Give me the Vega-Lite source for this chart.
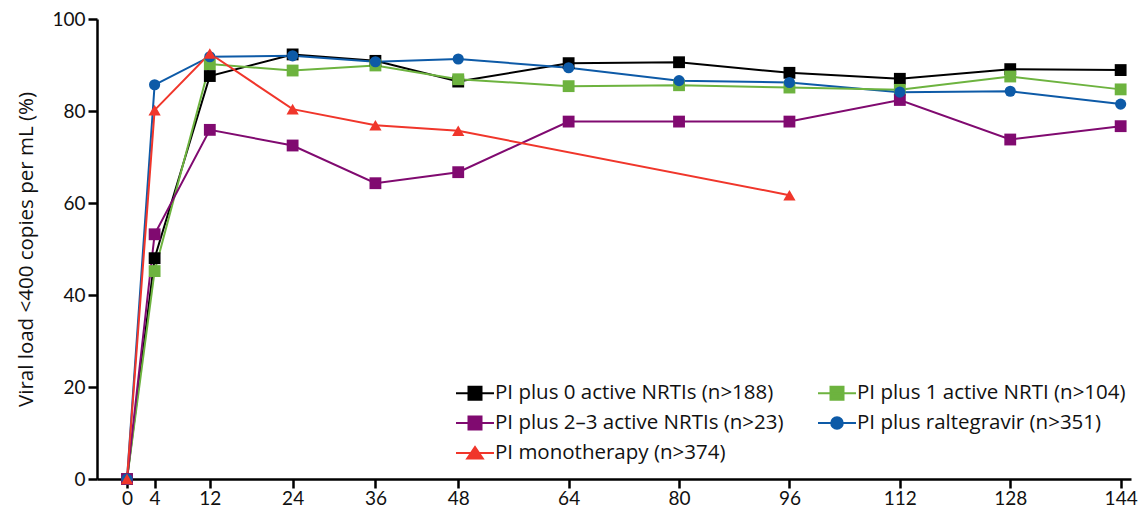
{
  "$schema": "https://vega.github.io/schema/vega-lite/v6.json",
  "autosize": "none",
  "width": 1034,
  "height": 460,
  "padding": {"left": 97, "top": 19, "right": 9, "bottom": 34},
  "background": "white",
  "config": {"view": {"stroke": null}, "font": "Lato"},
  "data": {"values": [
    {"series": "PI plus 0 active NRTIs (n>188)", "week": 0, "pct": 0},
    {"series": "PI plus 0 active NRTIs (n>188)", "week": 4, "pct": 48.0},
    {"series": "PI plus 0 active NRTIs (n>188)", "week": 12, "pct": 87.6},
    {"series": "PI plus 0 active NRTIs (n>188)", "week": 24, "pct": 92.3},
    {"series": "PI plus 0 active NRTIs (n>188)", "week": 36, "pct": 90.9},
    {"series": "PI plus 0 active NRTIs (n>188)", "week": 48, "pct": 86.4},
    {"series": "PI plus 0 active NRTIs (n>188)", "week": 64, "pct": 90.4},
    {"series": "PI plus 0 active NRTIs (n>188)", "week": 80, "pct": 90.6},
    {"series": "PI plus 0 active NRTIs (n>188)", "week": 96, "pct": 88.3},
    {"series": "PI plus 0 active NRTIs (n>188)", "week": 112, "pct": 87.0},
    {"series": "PI plus 0 active NRTIs (n>188)", "week": 128, "pct": 89.1},
    {"series": "PI plus 0 active NRTIs (n>188)", "week": 144, "pct": 88.9},
    {"series": "PI plus raltegravir (n>351)", "week": 0, "pct": 0},
    {"series": "PI plus raltegravir (n>351)", "week": 4, "pct": 85.7},
    {"series": "PI plus raltegravir (n>351)", "week": 12, "pct": 91.8},
    {"series": "PI plus raltegravir (n>351)", "week": 24, "pct": 92.0},
    {"series": "PI plus raltegravir (n>351)", "week": 36, "pct": 90.7},
    {"series": "PI plus raltegravir (n>351)", "week": 48, "pct": 91.3},
    {"series": "PI plus raltegravir (n>351)", "week": 64, "pct": 89.4},
    {"series": "PI plus raltegravir (n>351)", "week": 80, "pct": 86.6},
    {"series": "PI plus raltegravir (n>351)", "week": 96, "pct": 86.2},
    {"series": "PI plus raltegravir (n>351)", "week": 112, "pct": 84.1},
    {"series": "PI plus raltegravir (n>351)", "week": 128, "pct": 84.3},
    {"series": "PI plus raltegravir (n>351)", "week": 144, "pct": 81.5},
    {"series": "PI plus 1 active NRTI (n>104)", "week": 0, "pct": 0},
    {"series": "PI plus 1 active NRTI (n>104)", "week": 4, "pct": 45.2},
    {"series": "PI plus 1 active NRTI (n>104)", "week": 12, "pct": 90.2},
    {"series": "PI plus 1 active NRTI (n>104)", "week": 24, "pct": 88.8},
    {"series": "PI plus 1 active NRTI (n>104)", "week": 36, "pct": 89.9},
    {"series": "PI plus 1 active NRTI (n>104)", "week": 48, "pct": 86.9},
    {"series": "PI plus 1 active NRTI (n>104)", "week": 64, "pct": 85.4},
    {"series": "PI plus 1 active NRTI (n>104)", "week": 80, "pct": 85.6},
    {"series": "PI plus 1 active NRTI (n>104)", "week": 96, "pct": 85.1},
    {"series": "PI plus 1 active NRTI (n>104)", "week": 112, "pct": 84.6},
    {"series": "PI plus 1 active NRTI (n>104)", "week": 128, "pct": 87.5},
    {"series": "PI plus 1 active NRTI (n>104)", "week": 144, "pct": 84.7},
    {"series": "PI plus 2–3 active NRTIs (n>23)", "week": 0, "pct": 0},
    {"series": "PI plus 2–3 active NRTIs (n>23)", "week": 4, "pct": 53.2},
    {"series": "PI plus 2–3 active NRTIs (n>23)", "week": 12, "pct": 75.9},
    {"series": "PI plus 2–3 active NRTIs (n>23)", "week": 24, "pct": 72.5},
    {"series": "PI plus 2–3 active NRTIs (n>23)", "week": 36, "pct": 64.3},
    {"series": "PI plus 2–3 active NRTIs (n>23)", "week": 48, "pct": 66.7},
    {"series": "PI plus 2–3 active NRTIs (n>23)", "week": 64, "pct": 77.7},
    {"series": "PI plus 2–3 active NRTIs (n>23)", "week": 80, "pct": 77.7},
    {"series": "PI plus 2–3 active NRTIs (n>23)", "week": 96, "pct": 77.7},
    {"series": "PI plus 2–3 active NRTIs (n>23)", "week": 112, "pct": 82.4},
    {"series": "PI plus 2–3 active NRTIs (n>23)", "week": 128, "pct": 73.8},
    {"series": "PI plus 2–3 active NRTIs (n>23)", "week": 144, "pct": 76.7},
    {"series": "PI monotherapy (n>374)", "week": 0, "pct": 0},
    {"series": "PI monotherapy (n>374)", "week": 4, "pct": 80.2},
    {"series": "PI monotherapy (n>374)", "week": 12, "pct": 92.5},
    {"series": "PI monotherapy (n>374)", "week": 24, "pct": 80.4},
    {"series": "PI monotherapy (n>374)", "week": 36, "pct": 76.9},
    {"series": "PI monotherapy (n>374)", "week": 48, "pct": 75.7},
    {"series": "PI monotherapy (n>374)", "week": 96, "pct": 61.7}
  ]},
  "encoding": {
    "x": {"field": "week", "type": "quantitative",
      "scale": {"domain": [-4.35, 145.5], "nice": false, "zero": false},
      "axis": {"values": [0, 4, 12, 24, 36, 48, 64, 80, 96, 112, 128, 144], "title": null, "grid": false,
        "domainColor": "black", "domainWidth": 2.5, "tickColor": "black", "tickWidth": 2.5, "tickSize": 9,
        "labelFontSize": 19, "labelColor": "#111", "labelPadding": 1, "labelFlush": false, "labelOverlap": false}},
    "y": {"field": "pct", "type": "quantitative",
      "scale": {"domain": [0, 100], "nice": false},
      "axis": {"values": [0, 20, 40, 60, 80, 100], "title": "Viral load <400 copies per mL (%)", "grid": false,
        "domainColor": "black", "domainWidth": 2.5, "tickColor": "black", "tickWidth": 2.5, "tickSize": 9,
        "labelFontSize": 19, "labelColor": "#111", "labelPadding": 3, "labelFlush": false,
        "titleFont": "Open Sans", "titleFontSize": 20.5, "titleFontWeight": "normal", "titleColor": "#111", "titlePadding": 15}},
    "color": {"field": "series", "type": "nominal",
      "scale": {"domain": ["PI plus 0 active NRTIs (n>188)", "PI plus 2–3 active NRTIs (n>23)", "PI monotherapy (n>374)", "PI plus 1 active NRTI (n>104)", "PI plus raltegravir (n>351)"],
        "range": ["#000000", "#800a70", "#f0362b", "#6db33f", "#0d5aa7"]},
      "legend": {"title": null, "orient": "none", "legendX": 358, "legendY": 363, "columns": 2, "columnPadding": 30, "rowPadding": 8,
        "labelFont": "Open Sans", "labelFontSize": 20.5, "labelColor": "#111", "labelOffset": 9, "labelLimit": 0, "symbolSize": 400, "symbolOffset": 9, "symbolStrokeWidth": 2,
        "padding": 0,
        "encode": {"symbols": {"update": {
          "shape": {"signal": "datum.value == 'PI plus raltegravir (n>351)' ? 'M-1.9,0H1.9M-0.58,0A0.58,0.58,0,1,0,0.58,0A0.58,0.58,0,1,0,-0.58,0Z' : datum.value == 'PI monotherapy (n>374)' ? 'M-1.9,0H1.9M-0.78,0.55L0,-0.6L0.78,0.55Z' : 'M-1.9,0H1.9M-0.65,-0.65H0.65V0.65H-0.65Z'"},
          "fill": {"scale": "color", "field": "value"},
          "stroke": {"scale": "color", "field": "value"},
          "strokeWidth": {"value": 2},
          "opacity": {"value": 1}
        }}}}}
  },
  "layer": [
    {"mark": {"type": "line", "strokeWidth": 2}},
    {"transform": [{"filter": "datum.series != 'PI plus raltegravir (n>351)' && datum.series != 'PI monotherapy (n>374)'"}],
      "mark": {"type": "point", "shape": "square", "filled": true, "size": 140, "opacity": 1}},
    {"transform": [{"filter": "datum.series == 'PI plus raltegravir (n>351)'"}],
      "mark": {"type": "point", "shape": "circle", "filled": true, "size": 125, "opacity": 1}},
    {"transform": [{"filter": "datum.series == 'PI monotherapy (n>374)'"}],
      "mark": {"type": "point", "shape": "triangle-up", "filled": true, "size": 150, "opacity": 1}}
  ]
}
